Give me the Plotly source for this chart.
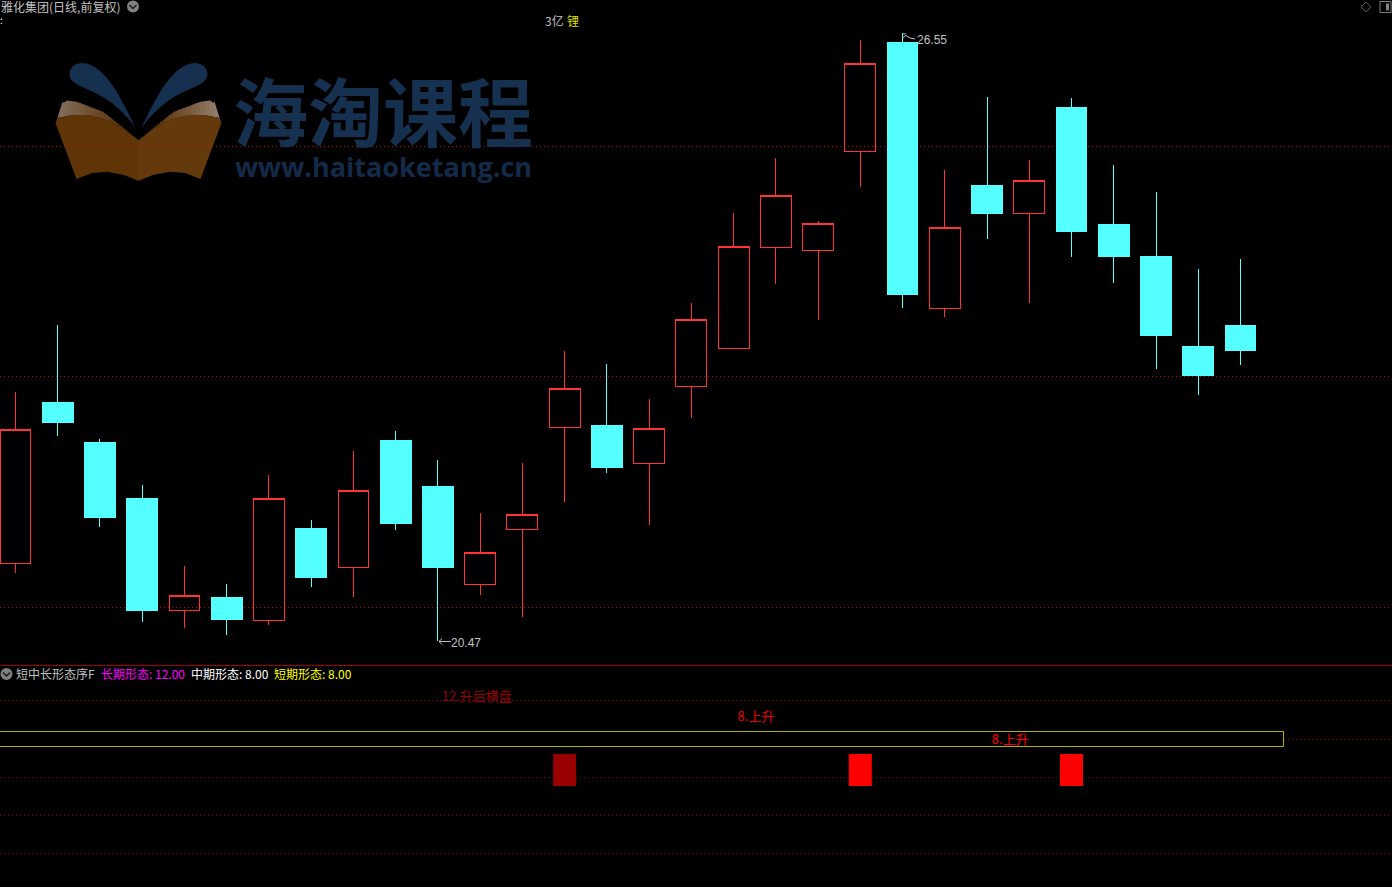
import plotly.graph_objects as go

W, H = 1392, 887

# ---- candle data (prices)
idx = list(range(30))
highs = [22.96,23.63,22.49,22.03,21.22,21.04,22.13,21.68,22.37,22.57,22.28,21.75,22.25,23.37,23.24,
         22.89,23.85,24.75,25.30,24.67,26.48,26.55,25.18,25.91,25.28,25.90,25.23,24.96,24.19,24.29]
lows = [21.15,22.52,21.61,20.66,20.60,20.53,20.63,21.01,20.91,21.58,20.47,20.93,20.71,21.86,22.15,
        21.63,22.70,23.39,24.04,23.68,25.01,23.80,23.71,24.49,23.85,24.31,24.05,23.19,22.93,23.23]
opens = [21.24,22.85,22.45,21.89,20.77,20.90,20.67,21.59,21.20,22.47,22.01,21.03,21.58,22.60,22.62,
         22.24,23.01,23.39,24.40,24.37,25.36,26.45,23.79,25.02,24.74,25.80,24.63,24.31,23.41,23.62]
closes = [22.585,22.65,21.70,20.77,20.92,20.68,21.89,21.10,21.97,21.64,21.20,21.35,21.73,22.99,22.20,
          22.59,23.68,24.41,24.92,24.64,26.24,23.93,24.60,24.74,25.07,24.56,24.31,23.52,23.12,23.37]

price_levels = [25.41, 23.11, 20.80]
panel_levels = [12, 7.922, 3.948, -0.026, -4.0]

# ---- lower panel data
signal_x = [13, 20, 25]
signal_base = [3.06, 3.06, 3.06]
signal_h = [3.345, 3.345, 3.345]
signal_colors = ["#990000", "#ff0000", "#ff0000"]
label_x = [10.92, 17.53, 23.55]
label_y = [12.27, 10.19, 7.82]
label_text = ["12.升后横盘", "8.上升", "8.上升"]
label_colors = ["#990000", "#e60000", "#ff0000"]

CJK = "Noto Sans CJK SC"
LAT = "Liberation Sans"
GREY = "#c0c0c0"
RED = "#ff3333"
CYAN = "#54ffff"
BOOK_BLUE = "#16304f"


def px(x):
    return x / W


def py(y):
    return 1 - y / H


def path(points, close=True):
    s = " ".join(("M" if i == 0 else "L") + f"{px(a):.5f},{py(b):.5f}" for i, (a, b) in enumerate(points))
    return s + (" Z" if close else "")


def curve(start, *segs):
    s = f"M{px(start[0]):.5f},{py(start[1]):.5f}"
    for c1, c2, e in segs:
        s += f" C{px(c1[0]):.5f},{py(c1[1]):.5f} {px(c2[0]):.5f},{py(c2[1]):.5f} {px(e[0]):.5f},{py(e[1]):.5f}"
    return s + " Z"


def mirror(points):
    return [(277 - a, b) for a, b in points]


def along(pts, x):
    for (a, b), (c, d) in zip(pts, pts[1:]):
        if a <= x <= c:
            return b + (d - b) * (x - a) / (c - a)
    return pts[-1][1]


def mix(c1, c2, t):
    return "#" + "".join(f"{round(a + (b - a) * t):02x}" for a, b in zip(c1, c2))


shapes = []


def add(p, fill=None, line=None, width=1, layer="below"):
    shapes.append(dict(type="path", xref="paper", yref="paper", path=p,
                       fillcolor=fill or "rgba(0,0,0,0)",
                       line=dict(color=line or "rgba(0,0,0,0)", width=width if line else 0),
                       layer=layer))


# ---- logo watermark: the sheen on the pages is built of overlapping strips, for its fade
sheen_top = [(57.4, 118), (63, 100), (76.5, 101.7), (103, 111.7), (122, 126.7), (138, 140)]
sheen_low = [(57.4, 118), (73, 115), (88, 115), (107, 120), (122, 128), (138, 140)]
strip_edges = [57.4 + 4.5 * i for i in range(18)] + [138]
for a, b in reversed(list(zip(strip_edges, strip_edges[1:]))):
    t = min(1, (a - 57.4) / 58)
    b2 = min(138, b + 1)
    pts = [(a, along(sheen_top, a)), (b2, along(sheen_top, b2)), (b2, along(sheen_low, b2)), (a, along(sheen_low, a))]
    add(path(pts), fill=mix((0x80, 0x6c, 0x5c), (0x5f, 0x34, 0x09), t))
    add(path(mirror(pts)), fill=mix((0x90, 0x7c, 0x6c), (0x5f, 0x34, 0x09), t))
left_page = [(55.5, 123), (57.4, 118), (73, 115), (88, 115), (107, 120), (122, 128), (139, 140.5),
             (139, 181), (124, 175), (107, 171.7), (92, 173), (76.5, 179)]
add(path(left_page), fill="#5f3407")
add(path(mirror(left_page)), fill="#643a0c")
add(curve((136, 129), ((126, 108), (106, 63), (82, 63)), ((72, 63), (68, 72), (70, 77)),
          ((72, 85), (88, 88), (103, 97)), ((114, 104), (128, 116), (136, 129))), fill=BOOK_BLUE)
add(curve((141, 129), ((151, 108), (171, 63), (195, 63)), ((205, 63), (209, 72), (207, 77)),
          ((205, 85), (189, 88), (174, 97)), ((163, 104), (149, 116), (141, 129))), fill=BOOK_BLUE)

# ---- dotted guide lines
for lv in price_levels:
    shapes.append(dict(type="line", xref="paper", x0=0, x1=1, yref="y", y0=lv, y1=lv,
                       line=dict(color="#cc0000", width=1, dash="1px,3px"), layer="below"))
for lv in panel_levels:
    shapes.append(dict(type="line", xref="paper", x0=0, x1=1, yref="y2", y0=lv, y1=lv,
                       line=dict(color="#990000", width=1, dash="1px,3px"), layer="below"))

# ---- panel separator and yellow band
shapes.append(dict(type="line", xref="paper", x0=0, x1=1, yref="paper", y0=py(665.5), y1=py(665.5),
                   line=dict(color="#a00000", width=1), layer="below"))
shapes.append(dict(type="rect", xref="paper", x0=px(-2), x1=px(1283.5), yref="paper",
                   y0=py(746.5), y1=py(731.5), fillcolor="#000000",
                   line=dict(color="#b0b000", width=1), layer="below"))

# ---- high/low pointers
add(path([(451, 641.5), (439, 641.5)], close=False), line=GREY, layer="above")
add(path([(442, 638.5), (439, 641.5), (442, 644.5)], close=False), line=GREY, layer="above")
add(path([(902.5, 34), (906, 34)], close=False), line=GREY, layer="above")
add(path([(902.5, 38), (906, 35.5), (910, 38), (915, 39)], close=False), line=GREY, layer="above")

# ---- window buttons
for cx, cy in [(133, 6.5), (6.5, 674)]:
    shapes.append(dict(type="circle", xref="paper", yref="paper", x0=px(cx - 6), x1=px(cx + 6),
                       y0=py(cy + 6), y1=py(cy - 6), fillcolor="#808080", line=dict(width=0), layer="above"))
    add(path([(cx - 3.5, cy - 1.5), (cx, cy + 2), (cx + 3.5, cy - 1.5)], close=False), line="#1a1a1a", width=1.5, layer="above")
add(path([(1366, 2), (1371, 7), (1366, 12), (1361, 7)]), line="#555555", layer="above")
shapes.append(dict(type="rect", xref="paper", yref="paper", x0=px(1380), x1=px(1391), y0=py(12.5), y1=py(1.5),
                   line=dict(color="#808080", width=1), fillcolor="rgba(0,0,0,0)", layer="above"))
shapes.append(dict(type="rect", xref="paper", yref="paper", x0=px(1386), x1=px(1389), y0=py(10.5), y1=py(3.5),
                   line=dict(width=0), fillcolor="#808080", layer="above"))


def note(x, y, text, color=GREY, family=CJK, size=12, anchor="left"):
    return dict(xref="paper", yref="paper", x=px(x), y=py(y), text=text, showarrow=False,
                xanchor=anchor, yanchor="middle", align="left",
                font=dict(color=color, family=family, size=size), borderpad=0, borderwidth=0)


annotations = [
    note(383, 109, "<b>海淘课程</b>", color=BOOK_BLUE, size=75, anchor="center"),
    note(383.5, 167, "<b>www.haitaoketang.cn</b>", color="#142a49", family="Open Sans", size=27, anchor="center"),
    note(1, 6.5, "雅化集团(日线,前复权)"),
    note(0, 20, ":", color="#ffffff", size=10),
    note(545, 21, "3亿"),
    note(567, 21, "锂", color="#e0e000"),
    note(917, 40, "26.55", family=LAT),
    note(451, 642.5, "20.47", family=LAT),
    note(16, 673, "短中长形态序F"),
    note(101, 673, "长期形态: 12.00", color="#ff00ff"),
    note(191, 673, "中期形态: 8.00", color="#ffffff"),
    note(274, 673, "短期形态: 8.00", color="#ffff00"),
]

fig = go.Figure()
fig.add_trace(go.Candlestick(
    x=idx, open=opens, high=highs, low=lows, close=closes,
    increasing=dict(line=dict(color=RED, width=1), fillcolor="rgba(0,0,0,0)"),
    decreasing=dict(line=dict(color=CYAN, width=1), fillcolor=CYAN),
    whiskerwidth=0, showlegend=False, xaxis="x", yaxis="y",
))
fig.add_trace(go.Bar(
    x=signal_x, y=signal_h, base=signal_base, width=0.545,
    marker=dict(color=signal_colors, line=dict(width=0)),
    showlegend=False, xaxis="x2", yaxis="y2",
))
fig.add_trace(go.Scatter(
    x=label_x, y=label_y, text=label_text, mode="text", textposition="middle center",
    textfont=dict(color=label_colors, family=CJK, size=13),
    showlegend=False, xaxis="x2", yaxis="y2", cliponaxis=False,
))

x_range = [-0.367, 32.587]
split = 1 - 665 / H
axis_off = dict(visible=False, showgrid=False, zeroline=False, fixedrange=True)
fig.update_layout(
    width=W, height=H, margin=dict(l=0, r=0, t=0, b=0),
    paper_bgcolor="#000000", plot_bgcolor="#000000",
    showlegend=False, boxgap=0.27, boxgroupgap=0,
    xaxis=dict(domain=[0, 1], range=x_range, anchor="y", rangeslider=dict(visible=False), **axis_off),
    yaxis=dict(domain=[split, 1], range=[20.225, 26.875], anchor="x", **axis_off),
    xaxis2=dict(domain=[0, 1], range=x_range, anchor="y2", **axis_off),
    yaxis2=dict(domain=[0, split], range=[-7.5033, 15.7124], anchor="x2", **axis_off),
    shapes=shapes, annotations=annotations,
)

page_js = """
document.documentElement.style.background='#000';
document.body.style.margin='0';
document.body.style.overflow='hidden';
document.querySelectorAll('.boxlayer path').forEach(function(p){
  p.style.shapeRendering='crispEdges';
  p.style.strokeLinejoin='miter';
});
"""
fig.write_html("out.html", config=dict(displayModeBar=False), post_script=page_js)
